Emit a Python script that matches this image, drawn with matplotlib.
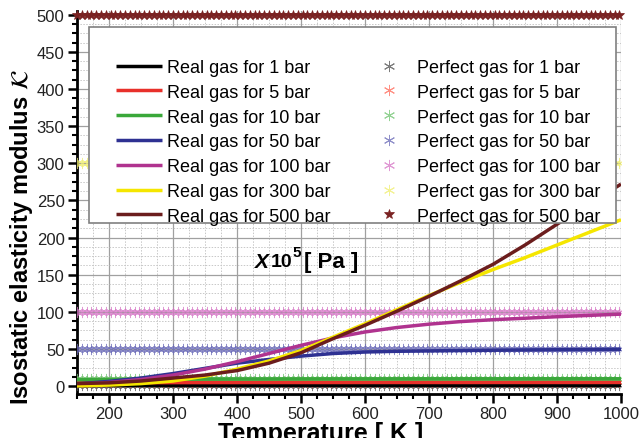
import numpy as np
import matplotlib
matplotlib.use("Agg")
import matplotlib.pyplot as plt
from matplotlib.ticker import MultipleLocator
from matplotlib.patches import Rectangle

plt.rcParams['font.family'] = ['Liberation Sans', 'DejaVu Sans']
plt.rcParams['mathtext.fontset'] = 'dejavusans'

# Pressures of the isotherm families (bar) and their colours
pressures = [1, 5, 10, 50, 100, 300, 500]
line_colors = ['#000000', '#e8302a', '#3aa83a', '#2e3192', '#b0338f', '#f5e600', '#6b1d1d']
marker_colors = ['#505050', '#ff6a5a', '#70c470', '#6a6ab8', '#d677c6', '#f0ee70', '#7a2222']

# Temperatures at which the real-gas modulus is tabulated (K)
temps = [150, 200, 250, 300, 350, 400, 450, 500, 550, 600,
         650, 700, 750, 800, 850, 900, 950, 1000]

# Real-gas isothermal elasticity modulus (x 1e5 Pa)
real_1 = [0.9, 0.93, 0.95, 0.96, 0.97, 0.98, 0.98, 0.99, 0.99, 0.99,
          1.0, 1.0, 1.0, 1.0, 1.0, 1.0, 1.0, 1.0]
real_5 = [4.4, 4.6, 4.7, 4.8, 4.85, 4.9, 4.92, 4.94, 4.95, 4.96,
          4.97, 4.98, 4.98, 4.99, 4.99, 5.0, 5.0, 5.0]
real_10 = [8.6, 9.0, 9.3, 9.5, 9.6, 9.7, 9.75, 9.8, 9.85, 9.88,
           9.9, 9.92, 9.94, 9.95, 9.96, 9.97, 9.98, 9.99]
real_50 = [3.0, 6.5, 11, 17, 24, 31, 36, 40.5, 44, 46,
           47, 47.5, 48, 48.4, 48.8, 49.1, 49.4, 49.7]
real_100 = [2.5, 5, 9, 15, 23, 33, 44, 55, 65, 73,
            79, 83.5, 87, 89.5, 91.5, 93.5, 95.3, 97]
real_300 = [0.5, 1.5, 3.5, 7, 13.5, 23, 34, 48, 66, 84,
            103, 122, 140, 157, 173, 190, 207, 224]
real_500 = [3.5, 4.5, 7, 11, 15, 21, 31, 45, 64, 82,
            101, 121, 142, 164, 190, 218, 245, 272]
real_series = [real_1, real_5, real_10, real_50, real_100, real_300, real_500]

# Temperature grid for the perfect-gas markers
perfect_temps = np.arange(150, 1000.1, 7.5)

W, H = 642, 439
fig = plt.figure(figsize=(W / 100, H / 100), dpi=100)
ax = fig.add_axes([77 / W, 44 / H, (621 - 77) / W, (395 - 12) / H])

ax.set_xlim(150, 1000)
ax.set_ylim(-10.5, 505)

ax.xaxis.set_major_locator(MultipleLocator(100))
ax.xaxis.set_minor_locator(MultipleLocator(25))
ax.yaxis.set_major_locator(MultipleLocator(50))
ax.yaxis.set_minor_locator(MultipleLocator(12.5))

ax.grid(which='major', color='#a0a0a0', lw=0.9, ls='-', zorder=0)
ax.grid(which='minor', color='#c8c8c8', lw=0.7, ls=(0, (1.5, 1.5)), zorder=0)
ax.set_axisbelow(True)

for side in ('top', 'right'):
    ax.spines[side].set_visible(False)
for side in ('left', 'bottom'):
    ax.spines[side].set_linewidth(2.0)
    ax.spines[side].set_color('black')

ax.tick_params(which='major', direction='out', length=6.5, width=1.8,
               labelsize=12, colors='black', labelcolor='#222222', pad=2.5)
ax.tick_params(which='minor', direction='out', length=3.6, width=1.5, colors='black')

real_handles = []
perfect_handles = []

# Perfect gas: modulus equals the pressure
for p, mc in zip(pressures, marker_colors):
    yv = np.full_like(perfect_temps, p, dtype=float)
    if p == 500:
        h, = ax.plot(perfect_temps, yv, ls='none', marker='*', ms=7,
                     mfc=mc, mec=mc, mew=0.5, zorder=3, clip_on=False,
                     label=f'Perfect gas for {p} bar')
    else:
        h, = ax.plot(perfect_temps, yv, ls='none', marker=(6, 2, 0), ms=8,
                     mec=mc, mew=0.7, alpha=0.75, zorder=3,
                     label=f'Perfect gas for {p} bar')
    perfect_handles.append(h)

# Real gas curves
for p, vals, lc in zip(pressures, real_series, line_colors):
    h, = ax.plot(temps, vals, color=lc, lw=2.5, zorder=4,
                 solid_capstyle='butt', label=f'Real gas for {p} bar')
    real_handles.append(h)

# Legend box and its entries
box = Rectangle((89 / W, 1 - 224 / H), (616 - 89) / W, (224 - 28) / H,
                transform=fig.transFigure, facecolor='white',
                edgecolor='#808080', lw=1.2, zorder=5)
fig.add_artist(box)
leg = fig.legend(real_handles + perfect_handles,
                 [h.get_label() for h in real_handles + perfect_handles],
                 ncol=2, loc='upper left',
                 bbox_to_anchor=(116 / W, 1 - 60 / H),
                 fontsize=13, frameon=False, borderpad=0,
                 labelspacing=0.43, handlelength=2.55, handletextpad=0.27,
                 columnspacing=1.95, borderaxespad=0)
leg.set_zorder(6)

# Unit annotation
ax.annotate('X', xy=(428, 168.5), fontsize=15, fontweight='bold',
            fontstyle='italic', ha='left', va='center', zorder=6)
ax.annotate('10', xy=(453, 168.5), fontsize=14, fontweight='bold',
            ha='left', va='center', zorder=6)
ax.annotate('5', xy=(486, 181), fontsize=11, fontweight='bold',
            ha='left', va='center', zorder=6)
ax.annotate('[ Pa ]', xy=(504, 168.5), fontsize=16, fontweight='bold',
            ha='left', va='center', zorder=6)

fig.text(0.033, 0.46, r'Isostatic elasticity modulus $\mathcal{K}$',
         rotation=90, fontsize=17, fontweight='bold', ha='center', va='center')
fig.text(0.5, -0.004, 'Temperature [ K ]', fontsize=18, fontweight='bold',
         ha='center', va='baseline')

fig.savefig('out.png', dpi=100)
